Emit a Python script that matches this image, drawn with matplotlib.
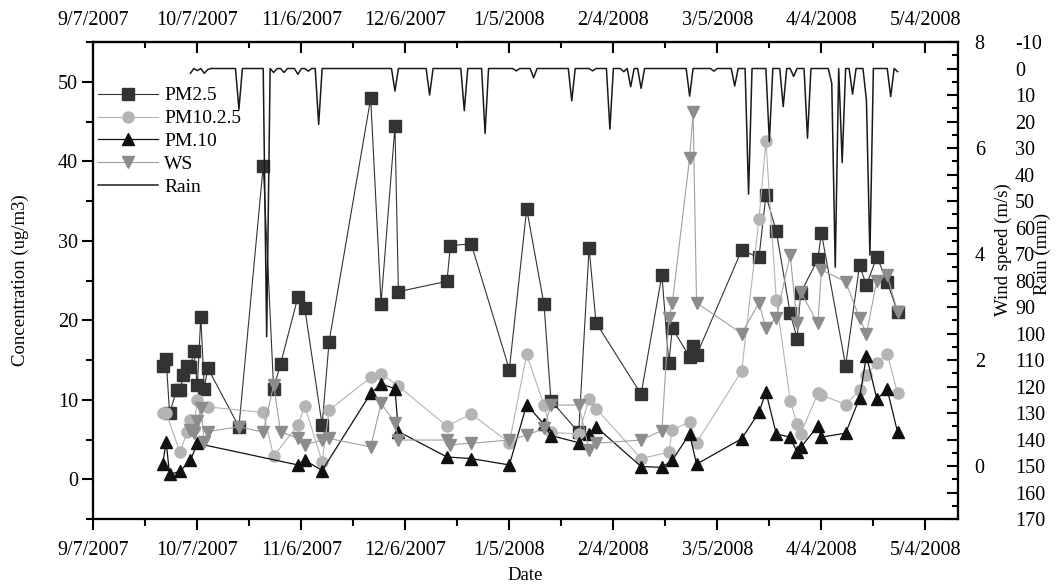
import numpy as np
import pandas as pd
import matplotlib
matplotlib.use('Agg')
import matplotlib.pyplot as plt
import matplotlib.dates as mdates
from matplotlib.ticker import MultipleLocator, FuncFormatter

plt.rcParams['font.family'] = ['Liberation Serif', 'DejaVu Serif']
plt.rcParams['axes.unicode_minus'] = False

# sampling dates (PM filters)
sample_dates = ['2007-09-27', '2007-09-28', '2007-09-29', '2007-10-01', '2007-10-02', '2007-10-03',
                '2007-10-04', '2007-10-05', '2007-10-06', '2007-10-07', '2007-10-08', '2007-10-09',
                '2007-10-10', '2007-10-19', '2007-10-26', '2007-10-29', '2007-10-31', '2007-11-05',
                '2007-11-07', '2007-11-12', '2007-11-14', '2007-11-26', '2007-11-29', '2007-12-03',
                '2007-12-04', '2007-12-18', '2007-12-19', '2007-12-25', '2008-01-05', '2008-01-10',
                '2008-01-15', '2008-01-17', '2008-01-25', '2008-01-28', '2008-01-30', '2008-02-12',
                '2008-02-18', '2008-02-20', '2008-02-21', '2008-02-26', '2008-02-27', '2008-02-28',
                '2008-03-12', '2008-03-17', '2008-03-19', '2008-03-22', '2008-03-26', '2008-03-28',
                '2008-03-29', '2008-04-03', '2008-04-04', '2008-04-11', '2008-04-15', '2008-04-17',
                '2008-04-20', '2008-04-23', '2008-04-26']
nan = np.nan
pm25 = [14.3, 15.1, 8.3, 11.2, 11.2, 13.1, 14.2, 14.1, 16.1, 11.8, 20.4, 11.4,
        14.0, 6.6, 39.4, 11.4, 14.5, 22.9, 21.5, 6.8, 17.3, 47.9, 22.1, 44.4,
        23.6, 24.9, 29.4, 29.6, 13.8, 34.0, 22.0, 9.9, 5.9, 29.1, 19.7, 10.7,
        25.7, 14.6, 19.0, 15.4, 16.7, 15.6, 28.8, 27.9, 35.7, 31.2, 20.9, 17.7,
        23.4, 27.7, 31.0, 14.3, 26.9, 24.4, 28.0, 24.8, 21.0]
pm10_25 = [8.3, 8.3, nan, nan, 3.4, nan, 5.9, 7.4, 6.4, 10.0, nan, nan,
           9.1, nan, 8.4, 2.9, nan, 6.8, 9.2, 2.2, 8.7, 12.8, 13.3, nan,
           11.7, 6.7, nan, 8.2, 4.6, 15.7, 9.3, 5.9, 5.7, 10.1, 8.9, 2.6,
           nan, 3.4, 6.2, 7.2, nan, 4.6, 13.6, 32.7, 42.5, 22.6, 9.9, 6.9,
           5.7, 10.8, 10.6, 9.4, 11.2, 13.1, 14.6, 15.8, 10.8]
pm10 = [1.9, 4.7, 0.6, nan, 1.0, nan, nan, 2.4, nan, 4.5, nan, nan,
        nan, nan, nan, nan, nan, 1.8, 2.4, 1.1, nan, 10.8, 12.0, 11.4,
        6.0, 2.8, nan, 2.6, 1.8, 9.4, 6.9, 5.5, 4.6, 5.7, 6.6, 1.6,
        1.5, nan, 2.4, 5.7, nan, 1.9, 5.1, 8.4, 11.0, 5.7, 5.3, 3.4,
        4.0, 6.7, 5.3, 5.8, 10.2, 15.5, 10.1, 11.3, 5.9]
ws = [nan, nan, nan, nan, nan, nan, nan, 0.68, 0.62, 0.84, 1.09, 0.46,
      0.65, 0.74, 0.64, 1.53, 0.65, 0.52, 0.40, 0.49, 0.52, 0.36, 1.18, 0.82,
      0.49, 0.49, 0.40, 0.43, 0.49, 0.58, 0.71, 1.15, 1.15, 0.30, 0.43, 0.49,
      0.67, 2.79, 3.07, 5.81, 6.68, 3.08, 2.50, 3.08, 2.60, 2.80, 3.98, 2.69,
      3.29, 2.69, 3.70, 3.48, 2.79, 2.49, 3.50, 3.60, 2.91]

# daily rain record, days not listed had no rain
rain_start, rain_end = '2007-10-05', '2008-04-26'
rain_dates = ['2007-10-05', '2007-10-07', '2007-10-09', '2007-10-10', '2007-10-19', '2007-10-27',
              '2007-10-29', '2007-11-01', '2007-11-05', '2007-11-08', '2007-11-11', '2007-12-03',
              '2007-12-13', '2007-12-23', '2007-12-29', '2008-01-07', '2008-01-12', '2008-01-23',
              '2008-01-29', '2008-02-03', '2008-02-07', '2008-02-09', '2008-02-12', '2008-02-26',
              '2008-03-04', '2008-03-10', '2008-03-14', '2008-03-20', '2008-03-24', '2008-03-27',
              '2008-03-31', '2008-04-07', '2008-04-08', '2008-04-10', '2008-04-13', '2008-04-17',
              '2008-04-18', '2008-04-24', '2008-04-26']
rain_mm = [1.8, 0.8, 1.8, 0.4, 15.4, 101.2,
           1.5, 1.5, 2.2, 1.0, 21.1, 8.5,
           10.0, 15.9, 24.5, 0.9, 3.5, 12.2,
           0.9, 22.9, 1.2, 6.9, 7.5, 10.4,
           1.0, 6.6, 47.4, 27.6, 14.4, 3.0,
           26.3, 5.6, 75.0, 35.5, 9.7, 12.0,
           70.4, 10.6, 1.2]

dates = pd.to_datetime(sample_dates)
rain = pd.Series(0.0, index=pd.date_range(rain_start, rain_end, freq='D'))
rain[pd.to_datetime(rain_dates)] = rain_mm

fig = plt.figure(figsize=(10.57, 5.85), dpi=100)
ax = fig.add_axes([0.0883, 0.1128, 0.818, 0.8154])
ax2 = ax.twinx()
ax3 = ax.twinx()


def series(axis, vals, **kw):
    s = pd.Series(vals, index=dates).dropna()
    return axis.plot(s.index, s.values, **kw)[0]


h1 = series(ax, pm25, color='#333333', lw=0.8, marker='s', ms=8, mec='#333333', label='PM2.5')
h2 = series(ax, pm10_25, color='#b4b4b4', lw=0.8, marker='o', ms=8, mec='#b4b4b4', label='PM10.2.5')
h3 = series(ax, pm10, color='#111111', lw=0.9, marker='^', ms=9, mec='#111111', label='PM.10')
h4 = series(ax2, ws, color='#a0a0a0', lw=0.8, marker='v', ms=9, mfc='#8c8c8c', mec='#8c8c8c', label='WS')
h5, = ax3.plot(rain.index, rain.values, color='#1a1a1a', lw=1.1, label='Rain')

start = pd.Timestamp('2007-09-07')
ax.set_xlim(start, start + pd.Timedelta(days=249.4))
major = pd.date_range(start, periods=9, freq='30D')
minor = pd.date_range(start, periods=17, freq='15D')
fmt = FuncFormatter(lambda v, p: '{0.month}/{0.day}/{0.year}'.format(mdates.num2date(v)))
ax.set_xticks(major)
ax.set_xticks(minor, minor=True)
ax.xaxis.set_major_formatter(fmt)

fs = 14.5
top = ax.secondary_xaxis('top')
top.set_xticks(major)
top.set_xticks(minor, minor=True)
top.xaxis.set_major_formatter(fmt)
top.tick_params(which='both', direction='in', width=1.5, labelsize=fs, pad=9)
top.tick_params(which='major', length=8)
top.tick_params(which='minor', length=4.5)

ax.set_ylim(-5, 55)
ax.yaxis.set_major_locator(MultipleLocator(10))
ax.yaxis.set_minor_locator(MultipleLocator(5))
ax.tick_params(which='both', direction='out', width=1.5, labelsize=fs, right=False)
ax.tick_params(which='major', length=8)
ax.tick_params(which='minor', length=5)
ax.tick_params(axis='x', pad=8)
ax.tick_params(axis='y', pad=3)

ax2.set_ylim(-1, 8)
ax2.set_yticks([0, 2, 4, 6, 8])
ax2.tick_params(axis='y', length=0, labelsize=fs, pad=12)

ax3.set_ylim(170, -10)
ax3.yaxis.set_major_locator(MultipleLocator(10))
ax3.yaxis.set_minor_locator(MultipleLocator(5))
ax3.tick_params(axis='y', which='both', direction='in', width=1.5, labelsize=fs, pad=41)
ax3.tick_params(axis='y', which='major', length=8)
ax3.tick_params(axis='y', which='minor', length=4.5)

for a in (ax, ax2, ax3):
    for sp in a.spines.values():
        sp.set_linewidth(1.5)
top.spines['top'].set_linewidth(1.5)

fig.text(0.0189, 0.521, 'Concentration (ug/m3)', rotation=90, ha='center', va='center', fontsize=13.5)
fig.text(0.497, 0.017, 'Date', ha='center', va='center', fontsize=13.5)
fig.text(0.949, 0.573, 'Wind speed (m/s)', rotation=90, ha='center', va='center', fontsize=13.5)
fig.text(0.9865, 0.566, 'Rain (mm)', rotation=90, ha='center', va='center', fontsize=13.5)

ax3.legend([h1, h2, h3, h4, h5], ['PM2.5', 'PM10.2.5', 'PM.10', 'WS', 'Rain'],
           loc='upper left', bbox_to_anchor=(0.0054, 0.906), frameon=False, borderpad=0,
           borderaxespad=0, handlelength=3.1, handletextpad=0.3, labelspacing=0.27, fontsize=14)

fig.savefig('out.png', dpi=100)
